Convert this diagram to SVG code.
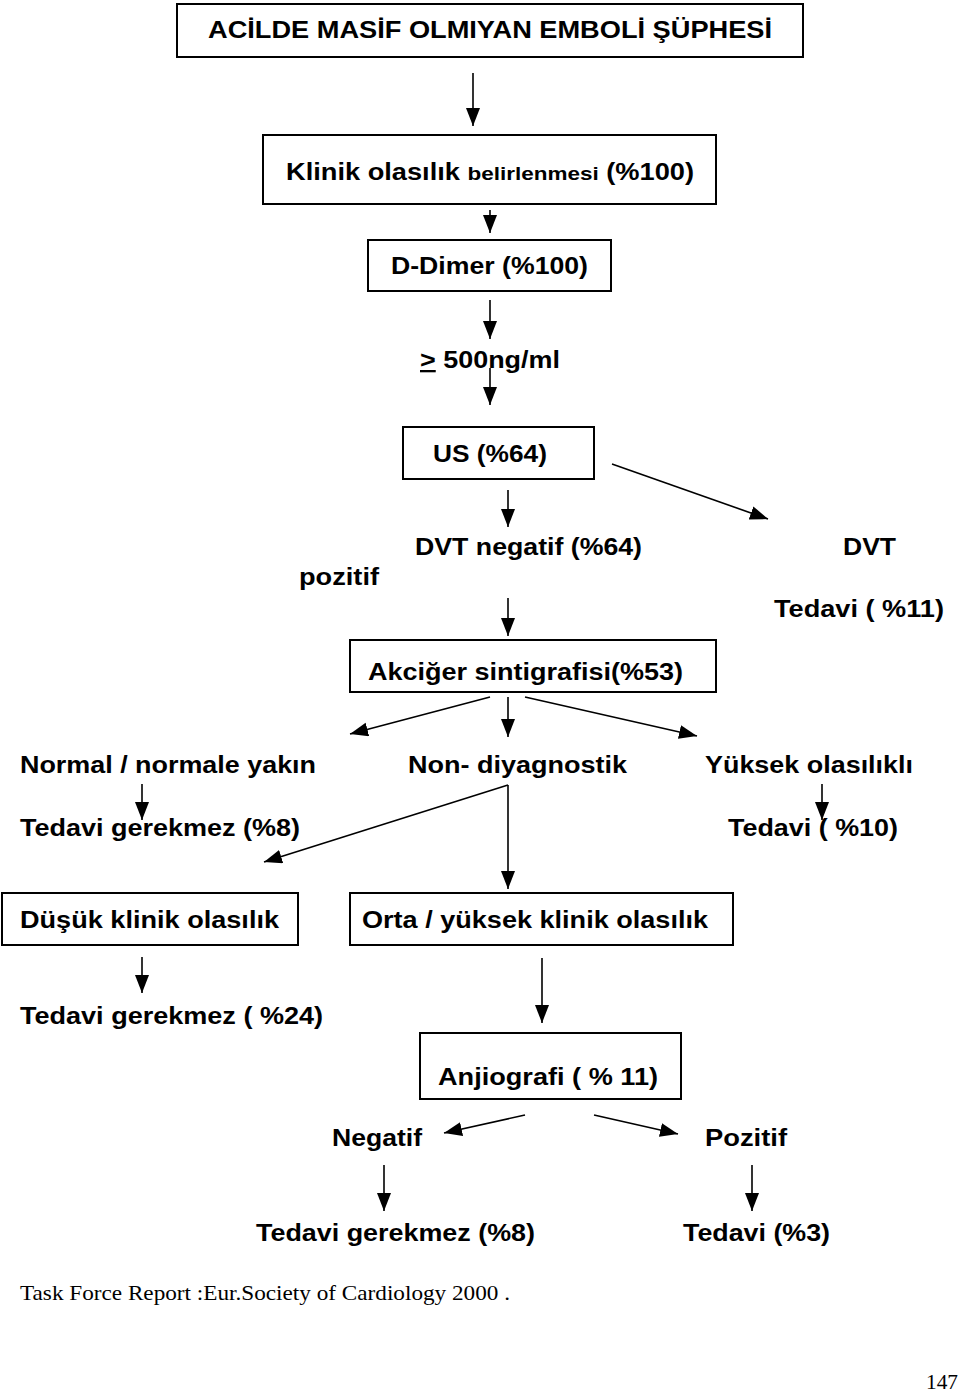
<svg xmlns="http://www.w3.org/2000/svg" width="960" height="1395" viewBox="0 0 960 1395">
<style>
.box{fill:#fff;stroke:#000;stroke-width:2}
.t{font-family:"Liberation Sans",Arial,sans-serif;font-weight:bold;font-size:23px;fill:#000}
.s{font-family:"Liberation Serif","Times New Roman",serif;font-size:21px;fill:#000}
.c{stroke:#000;stroke-width:1.6;fill:none;marker-end:url(#ah)}
</style>
<defs>
<marker id="ah" markerUnits="userSpaceOnUse" markerWidth="20" markerHeight="16" refX="18" refY="7" orient="auto">
<path d="M0,0 L18,7 L0,14 Z" fill="#000"/>
</marker>
</defs>
<rect width="960" height="1395" fill="#fff"/>
<g id="connectors">
<line class="c" x1="473" y1="73" x2="473" y2="126"/>
<line class="c" x1="490" y1="210" x2="490" y2="233"/>
<line class="c" x1="490" y1="300" x2="490" y2="339"/>
<line class="c" x1="490" y1="368" x2="490" y2="405"/>
<line class="c" x1="612" y1="464" x2="768" y2="519"/>
<line class="c" x1="508" y1="490" x2="508" y2="527"/>
<line class="c" x1="508" y1="598" x2="508" y2="636"/>
<line class="c" x1="490" y1="697" x2="350" y2="734"/>
<line class="c" x1="508" y1="697" x2="508" y2="737"/>
<line class="c" x1="525" y1="697" x2="697" y2="736"/>
<line class="c" x1="142" y1="784" x2="142" y2="820"/>
<line class="c" x1="822" y1="784" x2="822" y2="820"/>
<line class="c" x1="508" y1="785" x2="264" y2="862"/>
<line class="c" x1="508" y1="785" x2="508" y2="889"/>
<line class="c" x1="142" y1="957" x2="142" y2="993"/>
<line class="c" x1="542" y1="958" x2="542" y2="1023"/>
<line class="c" x1="525" y1="1115" x2="444" y2="1133"/>
<line class="c" x1="594" y1="1115" x2="678" y2="1134"/>
<line class="c" x1="384" y1="1165" x2="384" y2="1211"/>
<line class="c" x1="752" y1="1165" x2="752" y2="1211"/>
</g>
<g id="n-title"><rect class="box" x="177" y="4" width="626" height="53"/><text class="t" x="208" y="38" font-size="24" textLength="564" lengthAdjust="spacingAndGlyphs">ACİLDE MASİF OLMIYAN EMBOLİ ŞÜPHESİ</text></g>
<g id="n-klinik"><rect class="box" x="263" y="135" width="453" height="69"/><text class="t" x="286" y="180" textLength="408" lengthAdjust="spacingAndGlyphs">Klinik olasılık <tspan font-size="19">belirlenmesi</tspan> (%100)</text></g>
<g id="n-ddimer"><rect class="box" x="368" y="240" width="243" height="51"/><text class="t" x="391" y="274" textLength="197" lengthAdjust="spacingAndGlyphs">D-Dimer (%100)</text></g>
<g id="n-500"><text class="t" x="420" y="368" textLength="140" lengthAdjust="spacingAndGlyphs"><tspan text-decoration="underline">&gt;</tspan> 500ng/ml</text></g>
<g id="n-us"><rect class="box" x="403" y="427" width="191" height="52"/><text class="t" x="433" y="462" textLength="114" lengthAdjust="spacingAndGlyphs">US (%64)</text></g>
<g id="n-dvtneg"><text class="t" x="415" y="555" textLength="227" lengthAdjust="spacingAndGlyphs">DVT negatif (%64)</text></g>
<g id="n-pozitif1"><text class="t" x="299" y="585" textLength="80" lengthAdjust="spacingAndGlyphs">pozitif</text></g>
<g id="n-dvt"><text class="t" x="843" y="555" textLength="53" lengthAdjust="spacingAndGlyphs">DVT</text></g>
<g id="n-tedavi11"><text class="t" x="774" y="617" textLength="170" lengthAdjust="spacingAndGlyphs">Tedavi ( %11)</text></g>
<g id="n-akciger"><rect class="box" x="350" y="640" width="366" height="52"/><text class="t" x="368" y="680" textLength="315" lengthAdjust="spacingAndGlyphs">Akciğer sintigrafisi(%53)</text></g>
<g id="n-normal"><text class="t" x="20" y="773" textLength="296" lengthAdjust="spacingAndGlyphs">Normal / normale yakın</text></g>
<g id="n-nondiag"><text class="t" x="408" y="773" textLength="219" lengthAdjust="spacingAndGlyphs">Non- diyagnostik</text></g>
<g id="n-yuksek"><text class="t" x="705" y="773" textLength="208" lengthAdjust="spacingAndGlyphs">Yüksek olasılıklı</text></g>
<g id="n-tedavi8a"><text class="t" x="20" y="836" textLength="280" lengthAdjust="spacingAndGlyphs">Tedavi gerekmez (%8)</text></g>
<g id="n-tedavi10"><text class="t" x="728" y="836" textLength="170" lengthAdjust="spacingAndGlyphs">Tedavi ( %10)</text></g>
<g id="n-dusuk"><rect class="box" x="2" y="893" width="296" height="52"/><text class="t" x="20" y="928" textLength="259" lengthAdjust="spacingAndGlyphs">Düşük klinik olasılık</text></g>
<g id="n-orta"><rect class="box" x="350" y="893" width="383" height="52"/><text class="t" x="362" y="928" textLength="346" lengthAdjust="spacingAndGlyphs">Orta / yüksek klinik olasılık</text></g>
<g id="n-tedavi24"><text class="t" x="20" y="1024" textLength="303" lengthAdjust="spacingAndGlyphs">Tedavi gerekmez ( %24)</text></g>
<g id="n-anjio"><rect class="box" x="420" y="1033" width="261" height="66"/><text class="t" x="438" y="1085" textLength="220" lengthAdjust="spacingAndGlyphs">Anjiografi ( % 11)</text></g>
<g id="n-negatif"><text class="t" x="332" y="1146" textLength="90" lengthAdjust="spacingAndGlyphs">Negatif</text></g>
<g id="n-pozitif2"><text class="t" x="705" y="1146" textLength="82" lengthAdjust="spacingAndGlyphs">Pozitif</text></g>
<g id="n-tedavi8b"><text class="t" x="256" y="1241" textLength="279" lengthAdjust="spacingAndGlyphs">Tedavi gerekmez (%8)</text></g>
<g id="n-tedavi3"><text class="t" x="683" y="1241" textLength="147" lengthAdjust="spacingAndGlyphs">Tedavi (%3)</text></g>
<g id="n-source"><text class="s" x="20" y="1300" textLength="490" lengthAdjust="spacingAndGlyphs">Task Force Report :Eur.Society of Cardiology 2000 .</text></g>
<g id="n-page"><text class="s" x="926" y="1389" textLength="32" lengthAdjust="spacingAndGlyphs">147</text></g>
</svg>
